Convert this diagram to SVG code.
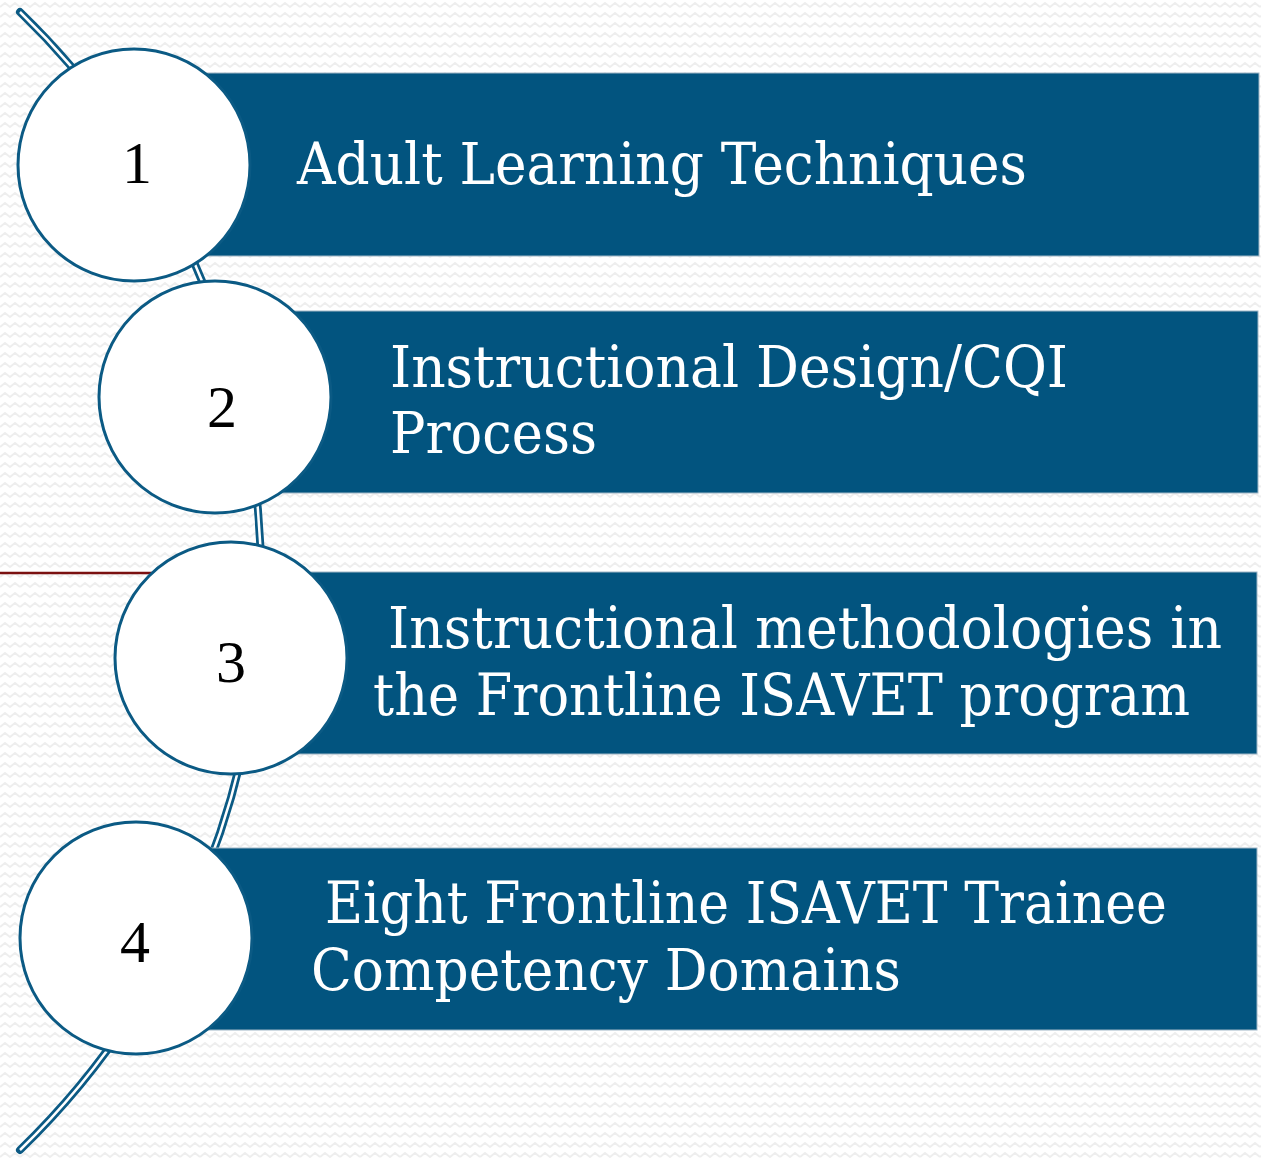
<svg xmlns="http://www.w3.org/2000/svg" width="1261" height="1158" viewBox="0 0 1261 1158">
<style>
.bar{fill:#02547f;stroke:#9fb6c6;stroke-width:1}
.circ{fill:#ffffff;stroke:#0b5a84;stroke-width:3}
.num{font-family:"Liberation Serif","Times New Roman",serif;font-size:60px;fill:#000000;text-anchor:middle}
.lbl{font-family:"DejaVu Serif","Liberation Serif",serif;font-size:57px;fill:#ffffff}
</style>
<defs>
<pattern id="zz" width="20" height="10" patternUnits="userSpaceOnUse">
<polyline points="0,7 5,3 10,7 15,3 20,7" fill="none" stroke="#eeeeee" stroke-width="2"/>
</pattern>
</defs>
<rect width="1261" height="1158" fill="#ffffff"/>
<rect width="1261" height="1158" fill="url(#zz)"/>
<g id="connectors">
<line x1="0" y1="573" x2="160" y2="573" stroke="#7b1010" stroke-width="2.5"/>
<path d="M 20 12 A 792 792 0 0 1 20 1150" fill="none" stroke="#0b5a84" stroke-width="8" stroke-linecap="round"/>
<path d="M 20 12 A 792 792 0 0 1 20 1150" fill="none" stroke="#ffffff" stroke-width="2.5"/>
</g>
<g id="node1">
<rect class="bar" x="190" y="73" width="1069" height="183"/>
<circle class="circ" cx="134" cy="165" r="116"/>
<text class="num" x="137" y="183">1</text>
<text class="lbl" x="297" y="184" textLength="730" lengthAdjust="spacingAndGlyphs">Adult Learning Techniques</text>
</g>
<g id="node2">
<rect class="bar" x="270" y="311" width="988" height="182"/>
<circle class="circ" cx="215" cy="397" r="116"/>
<text class="num" x="222" y="427">2</text>
<text class="lbl" x="390" y="387" textLength="678" lengthAdjust="spacingAndGlyphs">Instructional Design/CQI</text>
<text class="lbl" x="390" y="453" textLength="207" lengthAdjust="spacingAndGlyphs">Process</text>
</g>
<g id="node3">
<rect class="bar" x="290" y="572" width="967" height="182"/>
<circle class="circ" cx="231" cy="658" r="116"/>
<text class="num" x="231" y="682">3</text>
<text class="lbl" x="388" y="648" textLength="834" lengthAdjust="spacingAndGlyphs">Instructional methodologies in</text>
<text class="lbl" x="373" y="715" textLength="817" lengthAdjust="spacingAndGlyphs">the Frontline ISAVET program</text>
</g>
<g id="node4">
<rect class="bar" x="190" y="848" width="1067" height="182"/>
<circle class="circ" cx="136" cy="938" r="116"/>
<text class="num" x="135" y="962">4</text>
<text class="lbl" x="325" y="923" textLength="842" lengthAdjust="spacingAndGlyphs">Eight Frontline ISAVET Trainee</text>
<text class="lbl" x="311" y="990" textLength="590" lengthAdjust="spacingAndGlyphs">Competency Domains</text>
</g>
</svg>
